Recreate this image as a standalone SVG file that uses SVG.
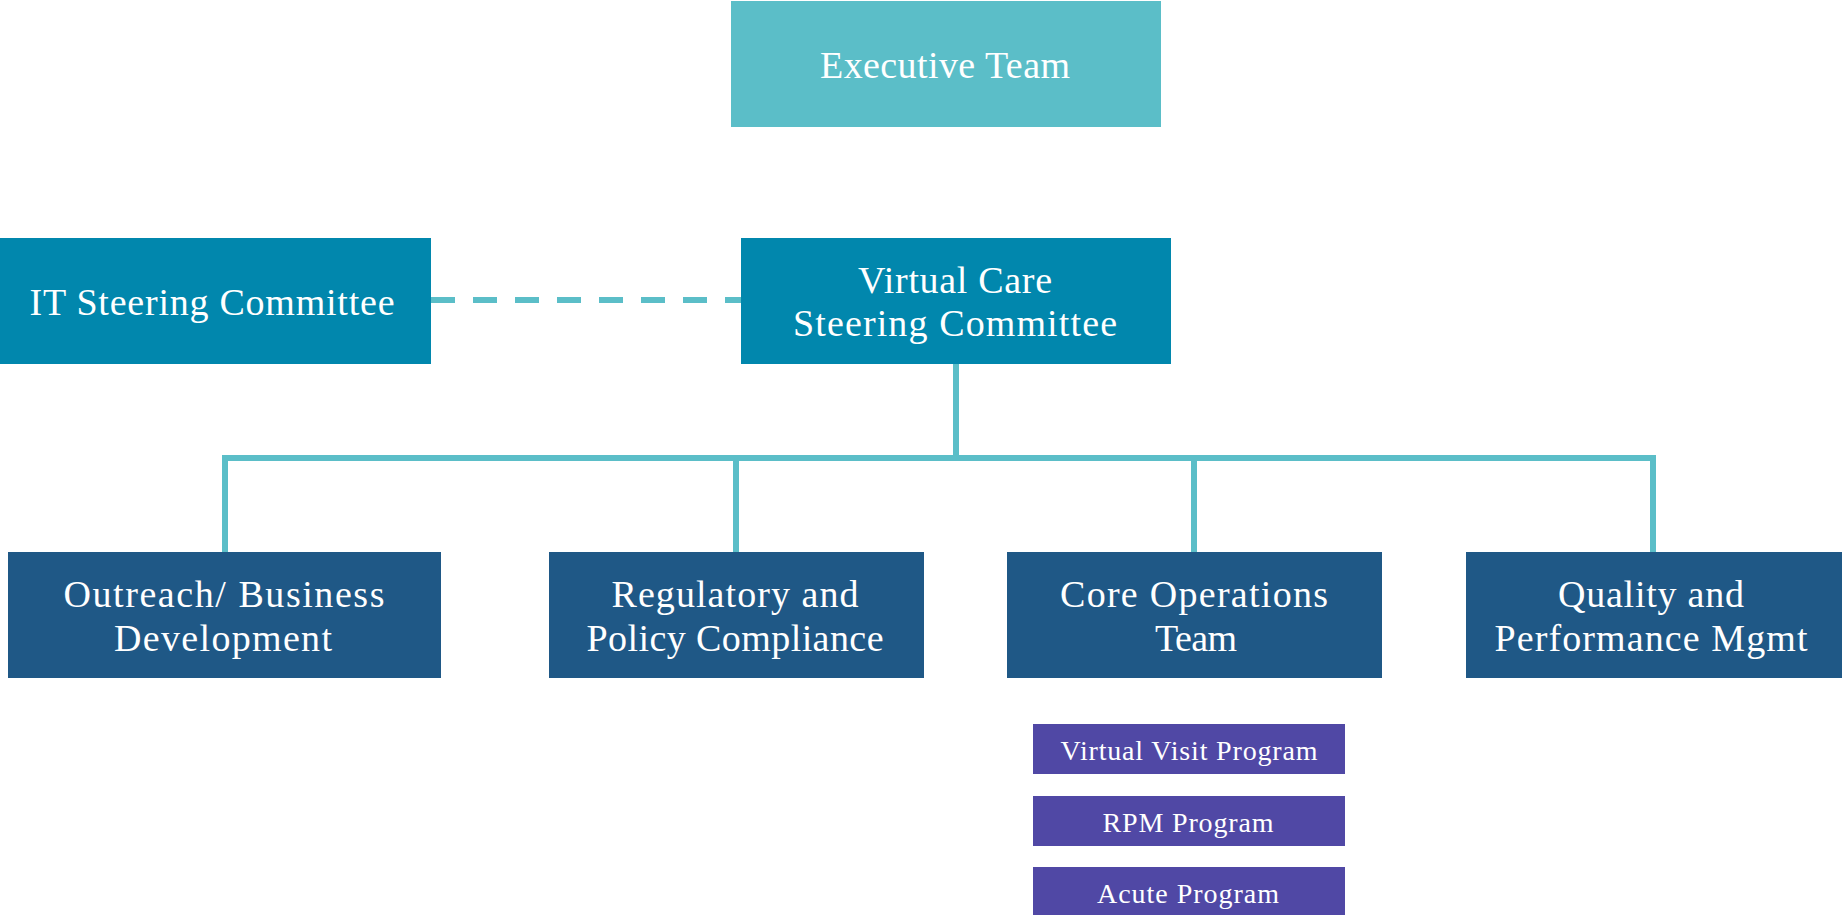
<svg xmlns="http://www.w3.org/2000/svg" width="1842" height="915" viewBox="0 0 1842 915">
  <style>
    .lbl { font-family: "Liberation Serif", "Times New Roman", serif; fill: #ffffff; text-anchor: middle; }
    .big { font-size: 38px; }
    .small { font-size: 28px; }
    .exec { fill: #5bbec8; }
    .steer { fill: #0187ad; }
    .dept { fill: #1f5886; }
    .prog { fill: #5048a5; }
    .conn { stroke: #5bbec8; stroke-width: 6; fill: none; }
  </style>

  <!-- connectors -->
  <g id="connectors">
    <line class="conn" x1="431" y1="300" x2="741" y2="300" stroke-dasharray="24 18"/>
    <line class="conn" x1="956" y1="364" x2="956" y2="458"/>
    <polyline class="conn" points="225,552 225,458 1653,458 1653,552"/>
    <line class="conn" x1="736" y1="458" x2="736" y2="552"/>
    <line class="conn" x1="1194" y1="458" x2="1194" y2="552"/>
  </g>

  <g id="executive-team">
    <rect class="exec" x="731" y="1" width="430" height="126"/>
    <text class="lbl big" x="945" y="78" textLength="250" lengthAdjust="spacing">Executive Team</text>
  </g>

  <g id="it-steering-committee">
    <rect class="steer" x="0" y="238" width="431" height="126"/>
    <text class="lbl big" x="212" y="315" textLength="365" lengthAdjust="spacing">IT Steering Committee</text>
  </g>

  <g id="virtual-care-steering-committee">
    <rect class="steer" x="741" y="238" width="430" height="126"/>
    <text class="lbl big" x="955" y="293" textLength="194" lengthAdjust="spacing">Virtual Care</text>
    <text class="lbl big" x="955" y="336" textLength="324" lengthAdjust="spacing">Steering Committee</text>
  </g>

  <g id="outreach-business-development">
    <rect class="dept" x="8" y="552" width="433" height="126"/>
    <text class="lbl big" x="224" y="607" textLength="321" lengthAdjust="spacing">Outreach/ Business</text>
    <text class="lbl big" x="223" y="651" textLength="218" lengthAdjust="spacing">Development</text>
  </g>

  <g id="regulatory-policy-compliance">
    <rect class="dept" x="549" y="552" width="375" height="126"/>
    <text class="lbl big" x="735" y="607" textLength="247" lengthAdjust="spacing">Regulatory and</text>
    <text class="lbl big" x="735" y="651" textLength="297" lengthAdjust="spacing">Policy Compliance</text>
  </g>

  <g id="core-operations-team">
    <rect class="dept" x="1007" y="552" width="375" height="126"/>
    <text class="lbl big" x="1194" y="607" textLength="268" lengthAdjust="spacing">Core Operations</text>
    <text class="lbl big" x="1196" y="651" textLength="82" lengthAdjust="spacing">Team</text>
  </g>

  <g id="quality-performance-mgmt">
    <rect class="dept" x="1466" y="552" width="376" height="126"/>
    <text class="lbl big" x="1651" y="607" textLength="186" lengthAdjust="spacing">Quality and</text>
    <text class="lbl big" x="1651" y="651" textLength="313" lengthAdjust="spacing">Performance Mgmt</text>
  </g>

  <g id="virtual-visit-program">
    <rect class="prog" x="1033" y="724" width="312" height="50"/>
    <text class="lbl small" x="1189" y="760" textLength="257" lengthAdjust="spacing">Virtual Visit Program</text>
  </g>

  <g id="rpm-program">
    <rect class="prog" x="1033" y="796" width="312" height="50"/>
    <text class="lbl small" x="1188" y="832" textLength="171" lengthAdjust="spacing">RPM Program</text>
  </g>

  <g id="acute-program">
    <rect class="prog" x="1033" y="867" width="312" height="50"/>
    <text class="lbl small" x="1188" y="903" textLength="182" lengthAdjust="spacing">Acute Program</text>
  </g>
</svg>
